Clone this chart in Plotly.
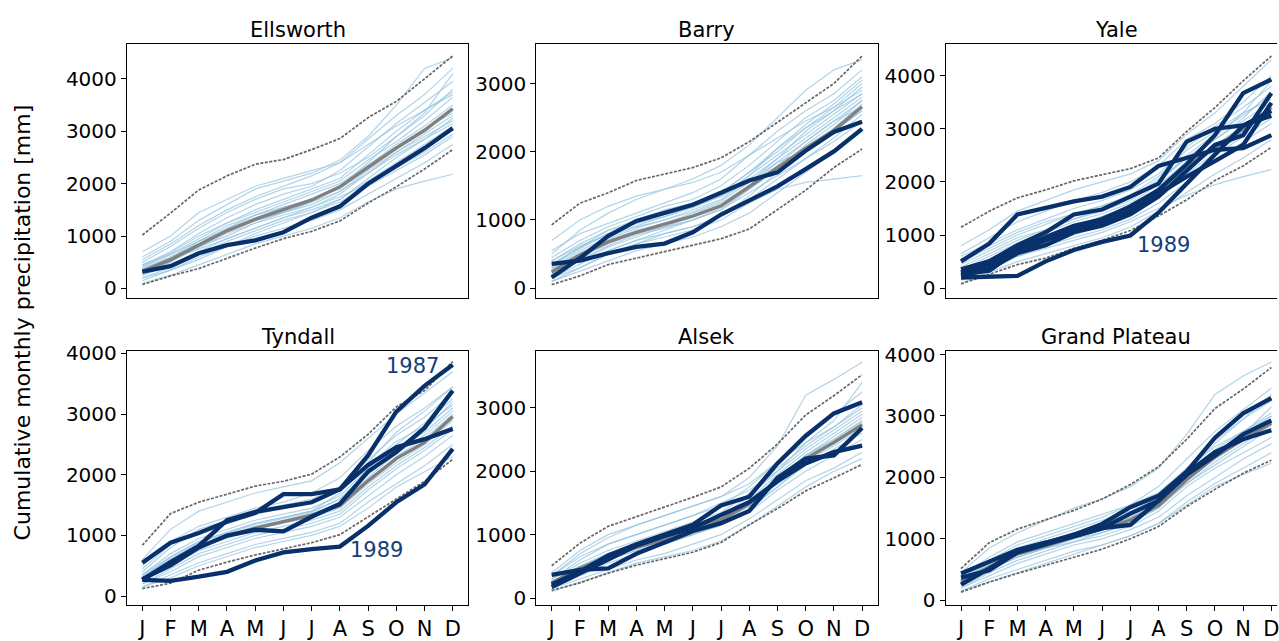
import plotly.graph_objects as go

# ---------------- data ----------------
months = ["J", "F", "M", "A", "M", "J", "J", "A", "S", "O", "N", "D"]
month_idx = list(range(len(months)))
panel_names = ["Ellsworth", "Barry", "Yale", "Tyndall", "Alsek", "Grand Plateau"]

# Ellsworth
ellsworth_years = [
    [600, 900, 1300, 1600, 1900, 2050, 2200, 2450, 2900, 3500, 4200, 4400],
    [450, 700, 1050, 1350, 1600, 1800, 1950, 2250, 2700, 3150, 3550, 3950],
    [250, 450, 700, 950, 1150, 1350, 1550, 1800, 2200, 2550, 2850, 3250],
    [150, 350, 600, 800, 1000, 1150, 1300, 1500, 1800, 2100, 2400, 2750],
    [400, 650, 950, 1250, 1450, 1650, 1850, 2050, 2450, 2800, 3200, 3650],
    [300, 500, 800, 1000, 1250, 1400, 1550, 1750, 2000, 2300, 2600, 2950],
    [200, 400, 650, 900, 1100, 1300, 1450, 1700, 2100, 2500, 2850, 3150],
    [700, 1000, 1450, 1700, 1950, 2100, 2250, 2400, 2750, 3100, 3400, 3700],
    [350, 600, 850, 1150, 1400, 1600, 1800, 2000, 2350, 2750, 3100, 3500],
    [100, 250, 450, 650, 850, 1000, 1150, 1350, 1650, 1900, 2050, 2180],
    [500, 800, 1150, 1450, 1700, 1900, 2000, 2200, 2500, 2900, 3300, 3800],
    [250, 500, 900, 1200, 1400, 1550, 1700, 1900, 2300, 2700, 3050, 3350],
    [450, 650, 900, 1100, 1300, 1450, 1650, 1950, 2400, 2900, 3350, 4100],
    [300, 550, 750, 950, 1150, 1350, 1500, 1700, 2050, 2400, 2750, 3100],
    [550, 850, 1200, 1500, 1750, 1950, 2150, 2400, 2850, 3300, 3700, 4200],
    [200, 350, 550, 800, 1050, 1250, 1450, 1650, 1950, 2250, 2550, 2900],
    [380, 600, 900, 1150, 1350, 1550, 1700, 1950, 2350, 2700, 3000, 3400],
    [280, 520, 780, 1050, 1250, 1450, 1650, 1850, 2250, 2600, 2950, 3300],
    [420, 680, 1000, 1250, 1500, 1700, 1900, 2100, 2550, 3000, 3400, 3750],
    [330, 560, 850, 1100, 1300, 1450, 1600, 1850, 2200, 2600, 2900, 3200],
]
ellsworth_mean = [330, 550, 830, 1100, 1320, 1500, 1690, 1940, 2310, 2680, 3020, 3430]
ellsworth_upper = [1020, 1440, 1880, 2150, 2370, 2460, 2650, 2860, 3260, 3570, 4000, 4440]
ellsworth_lower = [75, 240, 380, 580, 770, 950, 1090, 1290, 1630, 1940, 2280, 2650]
ellsworth_highlight = [
    [321, 426, 672, 827, 919, 1074, 1351, 1567, 1999, 2338, 2678, 3060],
]

# Barry
barry_years = [
    [500, 850, 1100, 1300, 1450, 1600, 1800, 2100, 2500, 2900, 3200, 3350],
    [350, 600, 850, 1000, 1150, 1250, 1400, 1700, 2000, 2350, 2600, 2950],
    [150, 350, 550, 700, 800, 900, 1050, 1300, 1600, 1900, 2150, 2450],
    [100, 250, 400, 550, 650, 750, 900, 1100, 1400, 1700, 2000, 2300],
    [300, 550, 750, 900, 1000, 1150, 1300, 1600, 1900, 2200, 2500, 2800],
    [700, 1000, 1200, 1350, 1450, 1550, 1700, 1950, 2200, 2450, 2650, 2900],
    [200, 450, 650, 800, 900, 1000, 1150, 1450, 1750, 2100, 2400, 2750],
    [250, 400, 550, 700, 850, 1000, 1150, 1400, 1650, 1900, 2200, 2550],
    [450, 700, 900, 1050, 1200, 1300, 1500, 1800, 2150, 2500, 2750, 3100],
    [150, 300, 500, 650, 750, 850, 1000, 1250, 1450, 1550, 1600, 1650],
    [400, 650, 850, 950, 1050, 1200, 1350, 1650, 2050, 2350, 2650, 3000],
    [300, 500, 700, 850, 950, 1100, 1250, 1500, 1800, 2150, 2450, 2650],
    [550, 800, 950, 1100, 1250, 1400, 1600, 1950, 2300, 2600, 2850, 3200],
    [200, 400, 600, 750, 900, 1050, 1200, 1500, 1850, 2000, 2300, 2600],
    [350, 600, 800, 1000, 1100, 1200, 1350, 1550, 1900, 2300, 2600, 2850],
    [100, 300, 500, 650, 800, 900, 1050, 1350, 1700, 2050, 2350, 2700],
    [280, 520, 720, 880, 1000, 1120, 1280, 1550, 1850, 2150, 2450, 2750],
    [400, 620, 780, 920, 1050, 1180, 1350, 1650, 1950, 2250, 2550, 2850],
    [220, 420, 620, 780, 880, 1000, 1180, 1450, 1750, 2050, 2300, 2600],
    [330, 580, 800, 950, 1080, 1200, 1400, 1700, 2050, 2400, 2700, 3050],
]
barry_mean = [237, 488, 678, 820, 938, 1057, 1208, 1483, 1768, 2052, 2313, 2659]
barry_upper = [929, 1246, 1398, 1578, 1673, 1768, 1910, 2147, 2431, 2715, 3000, 3403]
barry_lower = [52, 180, 346, 441, 526, 630, 725, 867, 1152, 1436, 1768, 2040]
barry_highlight = [
    [355, 403, 512, 607, 654, 820, 1080, 1294, 1493, 1744, 2005, 2336],
    [156, 441, 763, 986, 1104, 1223, 1398, 1578, 1697, 2014, 2289, 2440],
]

# Yale
yale_years = [
    [800, 1100, 1450, 1650, 1850, 2000, 2150, 2400, 2900, 3300, 3800, 4300],
    [600, 850, 1100, 1300, 1500, 1650, 1850, 2150, 2650, 3050, 3400, 3800],
    [400, 650, 900, 1100, 1300, 1450, 1650, 2000, 2500, 2900, 3250, 3650],
    [200, 400, 650, 800, 950, 1100, 1300, 1600, 2000, 2400, 2750, 3100],
    [100, 300, 500, 650, 800, 950, 1150, 1450, 1800, 2150, 2450, 2800],
    [350, 550, 800, 950, 1150, 1350, 1550, 1850, 2300, 2700, 3050, 3400],
    [250, 450, 700, 900, 1100, 1250, 1450, 1750, 2150, 2550, 2900, 3300],
    [500, 750, 1000, 1200, 1400, 1550, 1750, 2100, 2600, 2950, 3300, 3550],
    [150, 350, 600, 750, 900, 1050, 1250, 1500, 1750, 1950, 2100, 2230],
    [450, 700, 950, 1100, 1300, 1500, 1700, 2050, 2450, 2800, 3150, 3500],
    [300, 500, 750, 950, 1150, 1300, 1500, 1900, 2400, 2800, 3200, 3700],
    [200, 350, 600, 800, 1000, 1200, 1400, 1700, 2100, 2500, 2850, 3200],
    [650, 950, 1250, 1450, 1650, 1800, 2000, 2300, 2800, 3100, 3500, 4000],
    [350, 600, 850, 1050, 1250, 1400, 1600, 1950, 2350, 2650, 2950, 3300],
    [550, 800, 1050, 1250, 1400, 1550, 1700, 2000, 2450, 2850, 3300, 3900],
    [280, 480, 720, 920, 1100, 1280, 1480, 1800, 2250, 2600, 2950, 3250],
]
yale_mean = [310, 520, 780, 960, 1150, 1320, 1520, 1850, 2280, 2650, 3000, 3400]
yale_upper = [1145, 1450, 1700, 1850, 2020, 2130, 2250, 2450, 2950, 3400, 3900, 4370]
yale_lower = [79, 262, 444, 566, 749, 901, 1084, 1358, 1662, 2027, 2301, 2650]
yale_highlight = [
    [505, 840, 1388, 1510, 1632, 1723, 1906, 2301, 2453, 2605, 2636, 2880],
    [201, 213, 231, 505, 718, 871, 992, 1419, 1967, 2500, 3062, 3336],
    [353, 505, 810, 1053, 1388, 1480, 1723, 1967, 2758, 3001, 3062, 3245],
    [292, 444, 749, 962, 1175, 1297, 1540, 1845, 2332, 2880, 3671, 3927],
    [231, 371, 657, 810, 1053, 1175, 1388, 1723, 2210, 2697, 2880, 3671],
    [260, 330, 700, 900, 1100, 1250, 1450, 1780, 2100, 2393, 2697, 3488],
]

# Tyndall
tyndall_years = [
    [600, 1100, 1400, 1550, 1700, 1800, 1900, 2200, 2600, 3000, 3350, 3700],
    [400, 800, 1100, 1250, 1400, 1500, 1600, 1800, 2250, 2650, 2950, 3350],
    [250, 550, 800, 950, 1100, 1200, 1300, 1450, 1850, 2200, 2500, 2900],
    [150, 350, 550, 700, 850, 950, 1050, 1200, 1550, 1850, 2150, 2500],
    [300, 650, 900, 1050, 1200, 1300, 1400, 1600, 2000, 2400, 2700, 3100],
    [200, 450, 700, 850, 1000, 1100, 1200, 1350, 1750, 2100, 2400, 2750],
    [500, 900, 1150, 1300, 1450, 1550, 1700, 1950, 2400, 2800, 3100, 3450],
    [350, 700, 950, 1100, 1250, 1350, 1450, 1650, 2100, 2500, 2850, 3250],
    [200, 400, 650, 800, 950, 1050, 1150, 1300, 1650, 2000, 2300, 2650],
    [300, 600, 850, 1000, 1150, 1250, 1350, 1550, 1900, 2300, 2600, 3000],
    [450, 850, 1050, 1200, 1350, 1450, 1550, 1750, 2150, 2550, 2800, 3150],
    [150, 300, 500, 650, 800, 900, 1000, 1150, 1450, 1800, 2050, 2300],
    [250, 500, 750, 900, 1050, 1150, 1250, 1400, 1800, 2150, 2450, 2800],
    [350, 650, 900, 1050, 1200, 1300, 1400, 1700, 2200, 2700, 3050, 3450],
    [280, 580, 820, 980, 1120, 1230, 1330, 1520, 1950, 2350, 2650, 3050],
    [330, 620, 880, 1030, 1180, 1280, 1380, 1600, 2050, 2450, 2750, 3200],
]
tyndall_mean = [260, 560, 800, 987, 1120, 1227, 1333, 1493, 1900, 2267, 2533, 2960]
tyndall_upper = [837, 1360, 1547, 1680, 1813, 1893, 2011, 2293, 2667, 3120, 3387, 3867]
tyndall_lower = [123, 213, 427, 560, 677, 773, 880, 1013, 1307, 1600, 1893, 2256]
tyndall_highlight = [
    [267, 560, 827, 1253, 1387, 1467, 1547, 1760, 2320, 3040, 3467, 3813],
    [549, 880, 1040, 1227, 1370, 1680, 1680, 1760, 2160, 2453, 2587, 2757],
    [280, 507, 800, 997, 1093, 1067, 1307, 1520, 2053, 2373, 2773, 3387],
    [267, 251, 320, 400, 587, 720, 773, 816, 1157, 1547, 1840, 2427],
]

# Alsek
alsek_years = [
    [350, 700, 950, 1150, 1300, 1450, 1600, 1900, 2400, 3200, 3450, 3720],
    [300, 600, 850, 1000, 1150, 1300, 1450, 1750, 2150, 2600, 2900, 3250],
    [200, 450, 650, 800, 950, 1100, 1250, 1500, 1850, 2250, 2500, 2800],
    [150, 300, 450, 600, 700, 850, 1000, 1250, 1550, 1850, 2050, 2300],
    [250, 500, 700, 850, 1000, 1150, 1300, 1550, 1950, 2300, 2600, 2900],
    [400, 750, 1000, 1150, 1300, 1450, 1600, 1800, 2150, 2450, 2700, 3000],
    [200, 400, 600, 750, 900, 1050, 1200, 1450, 1750, 2100, 2350, 2600],
    [300, 550, 750, 900, 1050, 1200, 1350, 1650, 2050, 2400, 2700, 3050],
    [150, 350, 550, 700, 850, 1000, 1150, 1350, 1700, 2000, 2250, 2500],
    [250, 450, 600, 750, 850, 1000, 1150, 1400, 1750, 2150, 2450, 2750],
    [350, 650, 850, 1000, 1150, 1300, 1500, 1700, 2000, 2350, 2650, 2950],
    [100, 250, 400, 550, 650, 750, 900, 1150, 1450, 1750, 2000, 2200],
    [200, 450, 700, 850, 950, 1100, 1250, 1500, 1900, 2250, 2550, 2850],
    [300, 500, 700, 850, 1000, 1150, 1300, 1600, 2000, 2450, 2800, 3400],
    [260, 480, 680, 830, 960, 1100, 1260, 1520, 1900, 2250, 2500, 2780],
    [220, 430, 620, 780, 900, 1050, 1200, 1450, 1800, 2150, 2400, 2680],
]
alsek_mean = [239, 469, 647, 800, 927, 1080, 1233, 1487, 1844, 2200, 2455, 2735]
alsek_upper = [509, 866, 1131, 1283, 1436, 1589, 1752, 2047, 2429, 2888, 3193, 3524]
alsek_lower = [122, 239, 392, 519, 621, 723, 876, 1156, 1411, 1691, 1895, 2108]
alsek_highlight = [
    [214, 418, 672, 850, 1003, 1156, 1462, 1599, 2124, 2557, 2913, 3091],
    [367, 443, 469, 698, 876, 1054, 1182, 1375, 1895, 2200, 2251, 2684],
    [173, 392, 621, 825, 978, 1105, 1309, 1513, 1844, 2124, 2302, 2404],
]

# Grand Plateau
grand_years = [
    [450, 850, 1100, 1300, 1500, 1650, 1850, 2150, 2700, 3350, 3650, 3880],
    [350, 650, 900, 1050, 1200, 1350, 1550, 1850, 2300, 2750, 3100, 3450],
    [250, 500, 700, 850, 1000, 1100, 1250, 1500, 1900, 2250, 2550, 2850],
    [150, 350, 500, 650, 800, 900, 1050, 1250, 1600, 1900, 2150, 2400],
    [300, 550, 750, 900, 1050, 1200, 1350, 1600, 2050, 2450, 2750, 3050],
    [400, 700, 950, 1100, 1250, 1400, 1550, 1750, 2150, 2500, 2750, 3000],
    [200, 450, 650, 800, 950, 1050, 1200, 1450, 1850, 2150, 2400, 2650],
    [350, 600, 800, 950, 1100, 1250, 1400, 1700, 2150, 2600, 2950, 3250],
    [200, 400, 600, 750, 900, 1000, 1150, 1350, 1700, 2000, 2300, 2550],
    [300, 500, 700, 850, 950, 1100, 1250, 1500, 1950, 2350, 2700, 3000],
    [400, 650, 850, 1000, 1150, 1300, 1450, 1650, 2000, 2300, 2600, 2900],
    [150, 300, 450, 600, 750, 900, 1050, 1250, 1550, 1850, 2050, 2230],
    [250, 500, 700, 850, 1000, 1150, 1300, 1600, 2100, 2550, 2950, 3350],
    [350, 600, 800, 950, 1100, 1200, 1350, 1550, 1900, 2200, 2500, 2800],
    [280, 520, 740, 880, 1020, 1150, 1300, 1550, 1980, 2350, 2650, 2950],
    [330, 580, 780, 920, 1060, 1180, 1330, 1580, 2000, 2400, 2700, 3150],
]
grand_mean = [305, 542, 753, 884, 1032, 1158, 1305, 1542, 1963, 2331, 2621, 2884]
grand_upper = [516, 937, 1158, 1305, 1463, 1647, 1884, 2174, 2621, 3121, 3437, 3789]
grand_lower = [132, 295, 437, 568, 700, 832, 1000, 1200, 1526, 1805, 2068, 2279]
grand_highlight = [
    [437, 621, 821, 937, 1068, 1242, 1516, 1700, 2095, 2647, 3042, 3289],
    [368, 489, 779, 910, 1053, 1174, 1226, 1621, 2042, 2358, 2700, 2926],
    [253, 516, 805, 937, 1042, 1174, 1410, 1621, 2068, 2410, 2621, 2768],
]

y_ticks = [
    [0, 1000, 2000, 3000, 4000],
    [0, 1000, 2000, 3000],
    [0, 1000, 2000, 3000, 4000],
    [0, 1000, 2000, 3000, 4000],
    [0, 1000, 2000, 3000],
    [0, 1000, 2000, 3000, 4000],
]
year_labels = [
    # (panel index, month position, value, text)
    (2, 7.17, 816, "1989"),
    (3, 9.58, 3792, "1987"),
    (3, 8.3, 752, "1989"),
]

panels = [
    (ellsworth_years, ellsworth_mean, ellsworth_upper, ellsworth_lower, ellsworth_highlight),
    (barry_years, barry_mean, barry_upper, barry_lower, barry_highlight),
    (yale_years, yale_mean, yale_upper, yale_lower, yale_highlight),
    (tyndall_years, tyndall_mean, tyndall_upper, tyndall_lower, tyndall_highlight),
    (alsek_years, alsek_mean, alsek_upper, alsek_lower, alsek_highlight),
    (grand_years, grand_mean, grand_upper, grand_lower, grand_highlight),
]

# ---------------- styling / layout ----------------
W, H = 1279, 641
FONT = "DejaVu Sans"
LIGHT = "rgba(145,194,222,0.7)"
GREY = "#808080"
ENV = "#666666"
DARK = "#08306b"
LABEL = "#123f7c"

col_px = [(127, 469), (537, 879), (947, 1279)]
row_px = [(36, 298), (352, 614)]
x_ranges = [[-0.55, 11.55], [-0.55, 11.55], [-0.55, 11.2]]
y_ranges = [[-185, 4667], [-146, 3580], [-188, 4597],
            [-144, 4048], [-107, 3905], [-74, 4065]]


def py(v):
    """screen pixel row -> paper fraction"""
    return 1 - v / H


fig = go.Figure()
layout = dict(
    width=W, height=H, autosize=False,
    margin=dict(l=0, r=0, t=0, b=0),
    paper_bgcolor="white", plot_bgcolor="white",
    showlegend=False,
    font=dict(family=FONT, size=20, color="black"),
)
annotations = []

for k, (years, mean, upper, lower, hl) in enumerate(panels):
    r, c = divmod(k, 3)
    xa = "x" if k == 0 else f"x{k+1}"
    ya = "y" if k == 0 else f"y{k+1}"
    for yr in years:
        fig.add_trace(go.Scatter(x=month_idx, y=yr, mode="lines", xaxis=xa, yaxis=ya,
                                 line=dict(color=LIGHT, width=1.2), hoverinfo="skip"))
    for env in (upper, lower):
        fig.add_trace(go.Scatter(x=month_idx, y=env, mode="lines", xaxis=xa, yaxis=ya,
                                 line=dict(color=ENV, width=1.7, dash="3px,1.5px")))
    fig.add_trace(go.Scatter(x=month_idx, y=mean, mode="lines", xaxis=xa, yaxis=ya,
                             line=dict(color=GREY, width=3.4)))
    for h in hl:
        fig.add_trace(go.Scatter(x=month_idx, y=h, mode="lines", xaxis=xa, yaxis=ya,
                                 line=dict(color=DARK, width=4.3)))

    x0, x1 = col_px[c]
    y0, y1 = row_px[r]
    xd = [x0 / W, min(x1 / W, 1.0)]
    yd = [py(y1), py(y0)]
    xkey = "xaxis" if k == 0 else f"xaxis{k+1}"
    ykey = "yaxis" if k == 0 else f"yaxis{k+1}"
    layout[xkey] = dict(
        domain=xd, anchor=ya, range=x_ranges[c],
        showgrid=False, zeroline=False,
        showline=True, linecolor="black", linewidth=1, mirror=True,
        tickmode="array", tickvals=month_idx, ticktext=months,
        ticks="outside" if r == 1 else "", ticklen=5, tickcolor="black",
        showticklabels=(r == 1), tickfont=dict(size=21, family=FONT),
        ticklabeloverflow="allow",
    )
    layout[ykey] = dict(
        domain=yd, anchor=xa, range=y_ranges[k],
        showgrid=False, zeroline=False,
        showline=True, linecolor="black", linewidth=1, mirror=(c < 2),
        tickmode="array", tickvals=y_ticks[k], ticktext=[str(v) for v in y_ticks[k]],
        ticks="outside", ticklen=5, tickcolor="black",
        tickfont=dict(size=20, family=FONT),
    )
    annotations.append(dict(
        text=panel_names[k], xref="paper", yref="paper",
        x=((x0 + x1) / 2) / W if c < 2 else ((x0 + x0 + 342) / 2) / W,
        y=py(y0 - 14), xanchor="center", yanchor="middle",
        showarrow=False, font=dict(size=21, family=FONT, color="black"),
    ))

for (k, xm, val, txt) in year_labels:
    xa = "x" if k == 0 else f"x{k+1}"
    ya = "y" if k == 0 else f"y{k+1}"
    annotations.append(dict(text=txt, x=xm, y=val, xref=xa, yref=ya,
                            showarrow=False, xanchor="center", yanchor="middle",
                            font=dict(size=21, family=FONT, color=LABEL)))

annotations.append(dict(
    text="Cumulative monthly precipitation [mm]", xref="paper", yref="paper",
    x=22 / W, y=py(323), textangle=-90, showarrow=False,
    xanchor="center", yanchor="middle",
    font=dict(size=22, family=FONT, color="black"),
))
layout["annotations"] = annotations
fig.update_layout(**layout)
fig.write_html(
    "out.html",
    config={"displayModeBar": False},
    post_script="document.body.style.margin='0px';document.body.style.overflow='hidden';",
)
